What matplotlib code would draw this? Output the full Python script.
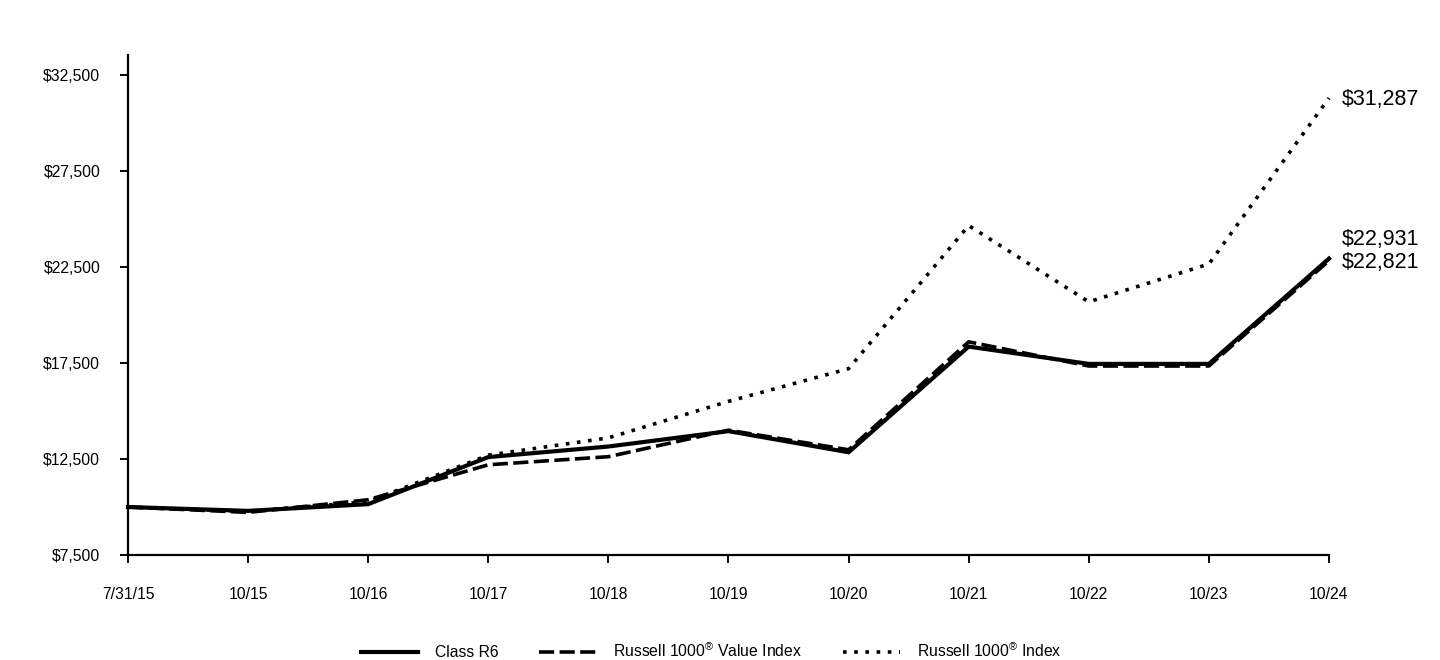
import matplotlib
matplotlib.use("Agg")
import matplotlib.pyplot as plt
from matplotlib.ticker import FuncFormatter

plt.rcParams['font.family'] = ['Liberation Sans', 'DejaVu Sans']
plt.rcParams['mathtext.fontset'] = 'custom'
plt.rcParams['mathtext.rm'] = 'Liberation Sans'

# data
dates = ["7/31/15", "10/15", "10/16", "10/17", "10/18", "10/19",
         "10/20", "10/21", "10/22", "10/23", "10/24"]
class_r6 = [10000, 9800, 10150, 12600, 13150, 13950, 12850, 18350, 17450, 17450, 22931]
value_idx = [10000, 9720, 10380, 12200, 12620, 14000, 12980, 18600, 17340, 17340, 22821]
russell_1000 = [10000, 9780, 10280, 12700, 13600, 15500, 17200, 24650, 20680, 22650, 31287]
yticks = [7500, 12500, 17500, 22500, 27500, 32500]

fig = plt.figure(figsize=(14.4, 6.6), dpi=100)
ax = fig.add_axes([0.0889, 0.159, 0.834, 0.758])

x = list(range(len(dates)))
ax.plot(x, class_r6, color="black", lw=3.0, solid_joinstyle="miter",
        label="Class R6", clip_on=False, zorder=3)
ax.plot(x, value_idx, color="black", lw=2.6, ls=(0, (4.2, 1.5)),
        label="Russell 1000$^{®}$ Value Index", clip_on=False, zorder=2)
ax.plot(x, russell_1000, color="black", lw=2.6, ls=(0, (1, 2.1)),
        label="Russell 1000$^{®}$ Index", clip_on=False, zorder=2)

# end labels
ax.annotate("${:,}".format(russell_1000[-1]), xy=(x[-1], russell_1000[-1]),
            xytext=(9, -1), textcoords="offset points", fontsize=15.5,
            va="center", ha="left")
ax.annotate("${:,}".format(class_r6[-1]), xy=(x[-1], class_r6[-1]),
            xytext=(9, 14), textcoords="offset points", fontsize=15.5,
            va="center", ha="left")
ax.annotate("${:,}".format(value_idx[-1]), xy=(x[-1], value_idx[-1]),
            xytext=(9, -1.5), textcoords="offset points", fontsize=15.5,
            va="center", ha="left")

ax.set_xlim(0, 10)
ax.set_ylim(7500, 33540)
ax.set_xticks(x)
ax.set_xticklabels(dates)
ax.set_yticks(yticks)
ax.yaxis.set_major_formatter(FuncFormatter(lambda v, p: "${:,.0f}".format(v)))

for s in ["top", "right"]:
    ax.spines[s].set_visible(False)
for s in ["left", "bottom"]:
    ax.spines[s].set_linewidth(1.6)
ax.tick_params(axis="y", direction="out", length=6, width=1.4, pad=14, labelsize=11.3)
ax.tick_params(axis="x", direction="out", length=6, width=1.4, pad=17, labelsize=11.3)

fig.legend(loc="lower center", bbox_to_anchor=(0.494, -0.022), ncol=3,
           frameon=False, fontsize=11.3, handlelength=3.6, columnspacing=2.6,
           handletextpad=1.1)

fig.savefig("out.png", dpi=100)
